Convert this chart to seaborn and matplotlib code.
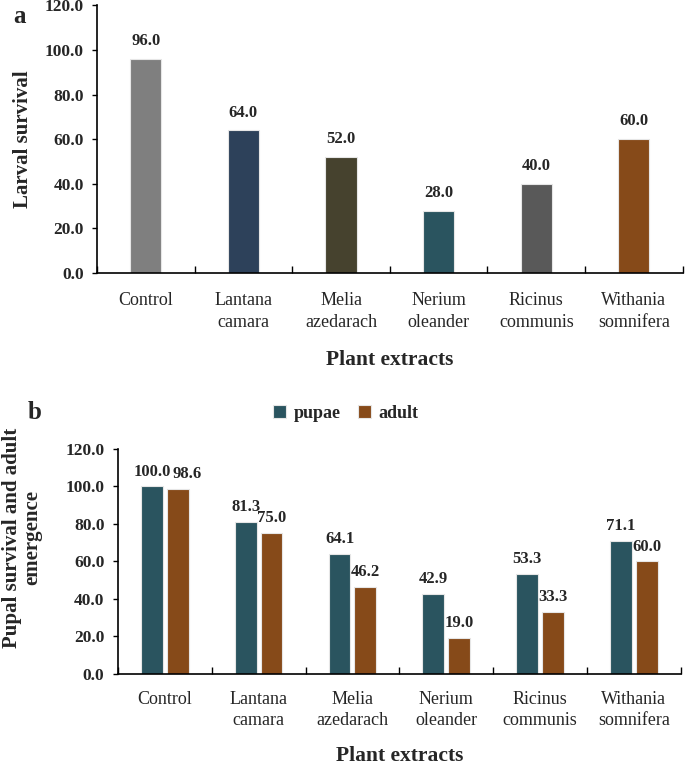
import numpy as np
import pandas as pd
import matplotlib
matplotlib.use('Agg')
import matplotlib.pyplot as plt
from matplotlib.ticker import FixedLocator, FormatStrFormatter
import seaborn as sns

# ------------------------------------------------------------
# Datos
# ------------------------------------------------------------
extracts = ['Control', 'Lantana\ncamara', 'Melia\nazedarach',
            'Nerium\noleander', 'Ricinus\ncommunis', 'Withania\nsomnifera']
larval_survival = [96.0, 64.0, 52.0, 28.0, 40.0, 60.0]
pupae = [100.0, 81.3, 64.1, 42.9, 53.3, 71.1]
adult = [98.6, 75.0, 46.2, 19.0, 33.3, 60.0]
stages = ['pupae', 'adult']

bar_colors_a = ['#7f7f7f', '#254061', '#4a452a', '#215968', '#595959', '#984807']
stage_colors = {'pupae': '#215968', 'adult': '#984807'}

# ------------------------------------------------------------
# Estilo
# ------------------------------------------------------------
sns.set_theme(style='white')
plt.rcParams['font.family'] = ['Liberation Serif', 'DejaVu Serif']
plt.rcParams['font.weight'] = 'bold'
plt.rcParams['axes.labelweight'] = 'bold'

fig = plt.figure(figsize=(6.85, 7.67), dpi=100)
ax_a = fig.add_axes([0.1416, 0.644, 0.855, 0.349])
ax_b = fig.add_axes([0.172, 0.1213, 0.822, 0.2933])


def style_axis(ax, n, pad):
    ax.set_ylim(0, 120)
    ax.set_xlim(-0.5, n - 0.5)
    ax.yaxis.set_major_locator(FixedLocator(np.arange(0, 121, 20)))
    ax.yaxis.set_major_formatter(FormatStrFormatter('%.1f'))
    ax.xaxis.set_minor_locator(FixedLocator(np.arange(-0.5, n, 1.0)))
    ax.tick_params(axis='x', which='major', length=0, pad=pad, labelsize=13)
    ax.tick_params(axis='x', which='minor', direction='in', length=5,
                   width=1.0, color='black', bottom=True)
    ax.tick_params(axis='y', which='major', direction='out', length=3.6,
                   width=1.0, color='black', left=True, labelsize=12.5, pad=6)
    for lbl in ax.get_xticklabels():
        lbl.set_linespacing(1.35)
        lbl.set_fontweight('normal')
    for lbl in ax.get_yticklabels():
        lbl.set_fontweight('bold')
    sns.despine(ax=ax)
    for side in ['left', 'bottom']:
        ax.spines[side].set_color('black')
        ax.spines[side].set_linewidth(1.2)


# ------------------------------------------------------------
# Panel a
# ------------------------------------------------------------
df_a = pd.DataFrame({'extract': extracts, 'survival': larval_survival})
sns.barplot(data=df_a, x='extract', y='survival', hue='extract',
            palette=bar_colors_a, width=0.32, legend=False,
            edgecolor='#e6e6e6', linewidth=0.8, ax=ax_a)
for cont in ax_a.containers:
    ax_a.bar_label(cont, fmt='%.1f', padding=7, fontsize=12, fontweight='bold')
style_axis(ax_a, len(extracts), pad=14)
ax_a.set_xlabel('Plant extracts', fontsize=15.5, labelpad=14)
ax_a.set_ylabel('Larval survival', fontsize=15, va='center')
ax_a.yaxis.set_label_coords(-0.127, 0.5)
fig.text(0.02, 0.978, 'a', fontsize=18, fontweight='bold', va='center', ha='left')

# ------------------------------------------------------------
# Panel b
# ------------------------------------------------------------
df_b = pd.DataFrame({
    'extract': extracts * 2,
    'stage': ['pupae'] * len(extracts) + ['adult'] * len(extracts),
    'value': pupae + adult,
})
sns.barplot(data=df_b, x='extract', y='value', hue='stage', hue_order=stages,
            palette=stage_colors, width=0.55, gap=0.15,
            edgecolor='#e6e6e6', linewidth=0.8, ax=ax_b)
label_sets = []
for cont in ax_b.containers:
    label_sets.append(ax_b.bar_label(cont, fmt='%.1f', padding=5,
                                     fontsize=12, fontweight='bold'))
# el rótulo 98.6 está desplazado a la derecha en el original
label_sets[1][0].xyann = (7, 5)
style_axis(ax_b, len(extracts), pad=12)
ax_b.set_xlabel('Plant extracts', fontsize=15.5, labelpad=12)
ax_b.set_ylabel('Pupal survival and adult\nemergence', fontsize=15,
                linespacing=1.05, va='center')
ax_b.yaxis.set_label_coords(-0.17, 0.605)
leg = ax_b.legend(loc='center', bbox_to_anchor=(0.405, 1.16), ncol=2, frameon=False,
                  fontsize=13, handlelength=0.7, handleheight=0.7,
                  handletextpad=0.4, columnspacing=1.0)
for t in leg.get_texts():
    t.set_fontweight('bold')
fig.text(0.04, 0.462, 'b', fontsize=18, fontweight='bold', va='center', ha='left')

fig.savefig('out.png', dpi=100)
